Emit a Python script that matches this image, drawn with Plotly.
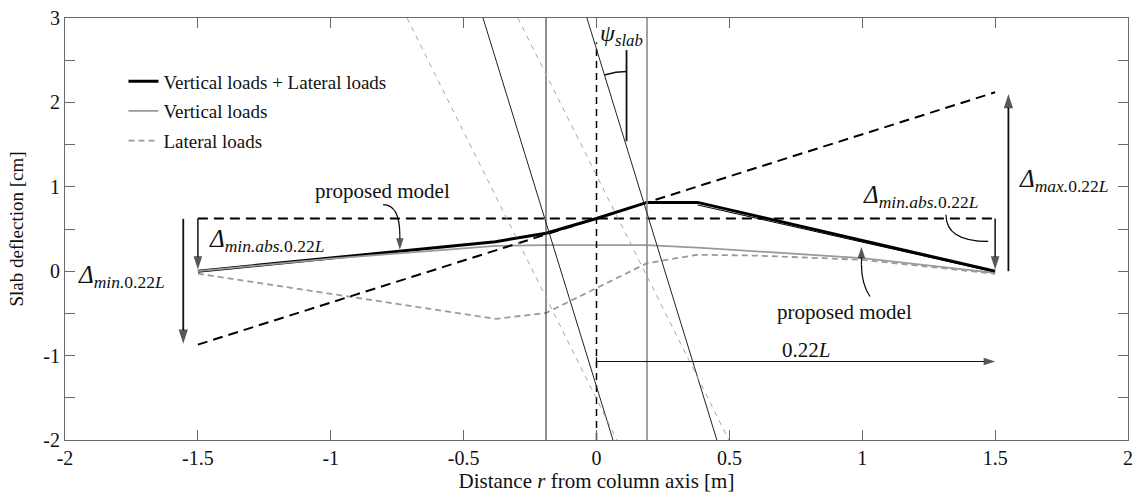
import numpy as np
import plotly.graph_objects as go

# ---------------- data ----------------
r_combined = [-1.5, -0.38, -0.19, 0.0, 0.19, 0.38, 1.5]
d_combined = [0.0, 0.35, 0.45, 0.625, 0.815, 0.815, 0.0]

r_vertical = [-1.5, -1.0, -0.5, -0.38, -0.19, 0.19, 0.38, 0.6, 1.0, 1.5]
d_vertical = [0.0, 0.15, 0.27, 0.30, 0.31, 0.31, 0.28, 0.235, 0.155, -0.02]

r_lateral = [-1.5, -0.38, -0.19, 0.0, 0.19, 0.38, 0.6, 1.0, 1.5]
d_lateral = [-0.03, -0.565, -0.495, -0.2, 0.095, 0.195, 0.185, 0.135, -0.03]

# proposed model (thin line beside the combined curve)
r_proposed = [0.38, 1.5]
d_proposed = [0.785, -0.01]

# proposed model construction lines
r_span = [-1.5, 1.5]
d_slope_line = [-0.87, 2.12]
d_min_abs = [0.625, 0.625]

column_edges = [-0.19, 0.19]
# rotated slab lines (top at y=3, bottom at y=-2)
rot_black_top = [-0.427, -0.036]
rot_black_bot = [0.062, 0.453]
rot_gray_top = [-0.713, -0.296]
rot_gray_bot = [0.077, 0.498]
y_top, y_bot = 3.0, -2.0

x_ticks = [-2, -1.5, -1, -0.5, 0, 0.5, 1, 1.5, 2]
x_ticktext = ["-2", "-1.5", "-1", "-0.5", "0", "0.5", "1", "1.5", "2"]
y_ticks = [-2, -1, 0, 1, 2, 3]
y_ticktext = ["-2", "-1", "0", "1", "2", "3"]

FONT = "Liberation Serif"
fig = go.Figure()

# ---- legend series ----
fig.add_trace(go.Scatter(x=r_combined, y=d_combined, mode="lines",
                         name="Vertical loads + Lateral loads",
                         line=dict(color="black", width=3), legendgroup="a"))
fig.add_trace(go.Scatter(x=r_vertical, y=d_vertical, mode="lines",
                         name="Vertical loads",
                         line=dict(color="#9a9a9a", width=1.8), legendgroup="b"))
fig.add_trace(go.Scatter(x=r_lateral, y=d_lateral, mode="lines",
                         name="Lateral loads",
                         line=dict(color="#9a9a9a", width=1.8, dash="6px,4px"), legendgroup="c"))


def helper(x, y, color="black", width=1.0, dash="solid"):
    fig.add_trace(go.Scatter(x=x, y=y, mode="lines", showlegend=False,
                             hoverinfo="skip", line=dict(color=color, width=width, dash=dash)))


def arrow_line(x, y, width=1.6, size=13, color="#111"):
    fig.add_trace(go.Scatter(x=x, y=y, mode="lines+markers", showlegend=False,
                             hoverinfo="skip", line=dict(color=color, width=width),
                             marker=dict(symbol="arrow", size=[0, size], angleref="previous",
                                         color=color, line=dict(width=0))))


helper(r_proposed, d_proposed, "black", 1.0)
helper(r_span, d_slope_line, "black", 2.0, "10px,6px")
helper(r_span, d_min_abs, "black", 2.0, "10px,6px")

# column edges and axis
helper([column_edges[0]] * 2, [y_bot, y_top], "#222", 1.0)
helper([column_edges[1]] * 2, [y_bot, y_top], "#8a8a8a", 1.6)
helper([0, 0], [y_bot, 2.71], "black", 1.5, "7px,5px")

# rotated slab lines
for t, b in zip(rot_black_top, rot_black_bot):
    helper([t, b], [y_top, y_bot], "#222", 1.0)
for t, b in zip(rot_gray_top, rot_gray_bot):
    helper([t, b], [y_top, y_bot], "#a8a8a8", 1.0, "5px,5px")

# psi_slab marker
psi_x = 0.113
helper([psi_x, psi_x], [1.54, 2.62], "#111", 1.8)
sx, sy = 265.75, 84.4
rate = (rot_black_bot[1] - rot_black_top[1]) / (y_top - y_bot)
theta_max = np.arctan(rate * sx / sy)
cy = y_top - (psi_x - rot_black_top[1]) / rate
th = np.linspace(0, theta_max, 20)
rad = 75
helper(psi_x - rad * np.sin(th) / sx, cy + rad * np.cos(th) / sy, "#111", 1.5)

# 0.22L bar at origin
helper([0, 0], [-1.02, -1.12], "black", 1.2)

# arrows
arrow_line([-1.555, -1.555], [0.62, -0.86], 1.8, 15)     # Delta_min
arrow_line([-1.5, -1.5], [0.625, 0.02], 1.5, 14)         # Delta_min.abs left
arrow_line([1.5, 1.5], [0.625, 0.02], 1.5, 14)           # Delta_min.abs right
arrow_line([1.55, 1.55], [0.0, 2.1], 1.8, 15)            # Delta_max
arrow_line([0.0, 1.5], [-1.07, -1.07], 1.2, 12)          # 0.22L
arrow_line([-0.74, -0.74], [0.42, 0.255], 1.2, 12)       # proposed model (upper)
arrow_line([0.997, 0.997], [0.08, 0.29], 1.2, 12)        # proposed model (lower)

# curved leader lines (shapes)
fig.add_shape(type="path", xref="x", yref="y",
              path="M -0.803,0.788 Q -0.74,0.788 -0.74,0.42",
              line=dict(color="black", width=1.2))
fig.add_shape(type="path", xref="x", yref="y",
              path="M 1.029,-0.30 Q 0.997,-0.15 0.997,0.08",
              line=dict(color="black", width=1.2))
fig.add_shape(type="path", xref="x", yref="y",
              path="M 1.315,0.67 Q 1.315,0.353 1.474,0.353",
              line=dict(color="black", width=1.2))

ann = []


def text(x, y, s, size=21, xanchor="center"):
    ann.append(dict(x=x, y=y, xref="x", yref="y", text=s, showarrow=False,
                    xanchor=xanchor, yanchor="middle",
                    font=dict(family=FONT, size=size, color="#111")))


text(-0.806, 0.95, "proposed model")
text(0.935, -0.48, "proposed model")
text(0.79, -0.93, "0.22<i>L</i>")
text(-1.24, 0.36, "<i>Δ</i><sub><i>min.abs.</i>0.22<i>L</i></sub>", 25)
text(1.221, 0.88, "<i>Δ</i><sub><i>min.abs.</i>0.22<i>L</i></sub>", 25)
text(-1.789, -0.06, "<i>Δ</i><sub><i>min.</i>0.22<i>L</i></sub>", 25)
text(1.76, 1.08, "<i>Δ</i><sub><i>max.</i>0.22<i>L</i></sub>", 25)
text(0.095, 2.80, "<i>ψ</i><sub><i>slab</i></sub>", 24)

axis_common = dict(showline=True, linecolor="#6a6a6a", linewidth=1.2, mirror="ticks",
                   ticks="inside", ticklen=10, tickcolor="#6a6a6a", tickwidth=1.2,
                   showgrid=False, zeroline=False, ticklabeloverflow="allow",
                   automargin=False,
                   tickfont=dict(family=FONT, size=20, color="#111"))

fig.update_layout(
    width=1136, height=502,
    margin=dict(l=65, r=8, t=18, b=62, autoexpand=False),
    paper_bgcolor="white", plot_bgcolor="white",
    annotations=ann,
    showlegend=True,
    legend=dict(x=0.055, y=0.895, xanchor="left", yanchor="top",
                bgcolor="rgba(0,0,0,0)", font=dict(family=FONT, size=19, color="#111"),
                itemwidth=30, tracegroupgap=2),
    xaxis=dict(range=[-2, 2], tickvals=x_ticks, ticktext=x_ticktext,
               title=dict(text="Distance <i>r</i> from column axis [m]",
                          font=dict(family=FONT, size=21, color="#111"), standoff=4),
               **axis_common),
    yaxis=dict(range=[-2, 3], tickvals=y_ticks, ticktext=y_ticktext,
               minor=dict(dtick=0.5, tick0=0, ticks="inside", ticklen=10,
                          tickcolor="#6a6a6a", tickwidth=1.2),
               title=dict(text="Slab deflection [cm]",
                          font=dict(family=FONT, size=19, color="#111"), standoff=14),
               **axis_common),
)

fig.write_html("out.html", config={"displayModeBar": False},
               post_script="document.body.style.margin='0px';document.body.style.overflow='hidden';")
